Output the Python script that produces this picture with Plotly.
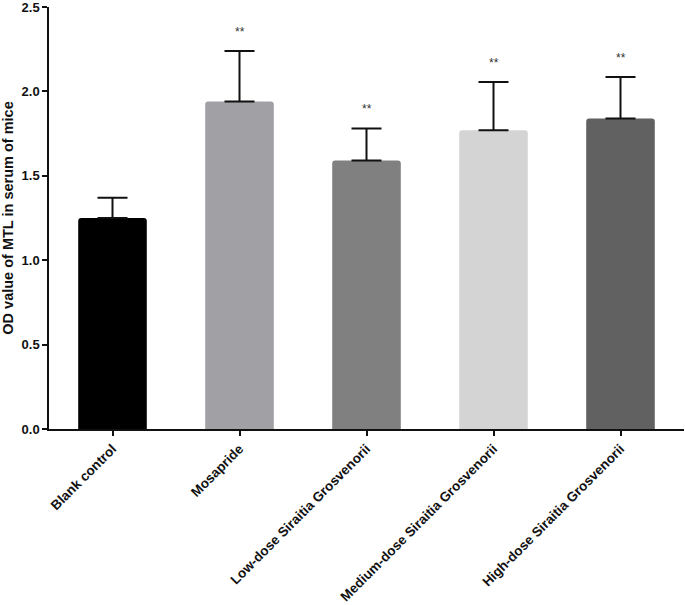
import plotly.graph_objects as go

categories = ["Blank control", "Mosapride", "Low-dose Siraitia Grosvenorii",
              "Medium-dose Siraitia Grosvenorii", "High-dose Siraitia Grosvenorii"]
means = [1.25, 1.94, 1.59, 1.77, 1.84]
errors = [0.12, 0.30, 0.19, 0.285, 0.245]
significance = ["", "**", "**", "**", "**"]
colors = ["#000000", "#a1a0a4", "#808080", "#d4d4d4", "#616161"]
y_ticks = [0.0, 0.5, 1.0, 1.5, 2.0, 2.5]

font_family = "Liberation Sans, Arial, sans-serif"

fig = go.Figure()
fig.add_trace(go.Bar(
    x=categories, y=means,
    marker=dict(color=colors, line=dict(width=0), cornerradius=3),
    width=0.54,
    error_y=dict(type="data", array=errors, arrayminus=[0]*len(errors),
                 symmetric=False, color="#111111", thickness=2, width=15),
))

for c, m, e, s in zip(categories, means, errors, significance):
    if s:
        fig.add_annotation(x=c, y=m + e + 0.06, text=s, showarrow=False,
                           yanchor="bottom", font=dict(size=12, color="#333333", family=font_family))

fig.update_layout(
    width=685, height=605,
    margin=dict(l=49, r=1, t=7, b=176, autoexpand=False),
    plot_bgcolor="white", paper_bgcolor="white",
    showlegend=False,
    font=dict(family=font_family, color="#111111"),
)
fig.update_xaxes(
    range=[-0.5, 4.5], showline=True, linecolor="#111111", linewidth=1.5,
    ticks="outside", ticklen=5, tickwidth=1.5, tickcolor="#111111",
    tickangle=-45, tickfont=dict(size=13.5, weight="bold"),
    showgrid=False, automargin=False,
)
fig.update_yaxes(
    range=[0, 2.5], tickvals=y_ticks, ticktext=[f"{v:.1f}" for v in y_ticks],
    showline=True, linecolor="#111111", linewidth=1.5,
    ticks="outside", ticklen=5, tickwidth=1.5, tickcolor="#111111",
    tickfont=dict(size=13, weight="bold"), ticklabeloverflow="allow",
    title=dict(text="OD value of MTL in serum of mice", font=dict(size=14.5, weight="bold"), standoff=6),
    showgrid=False, zeroline=False, automargin=False,
)

fig.write_html("out.html", config={"displayModeBar": False},
               post_script="document.body.style.margin='0';document.body.style.overflow='hidden';")
